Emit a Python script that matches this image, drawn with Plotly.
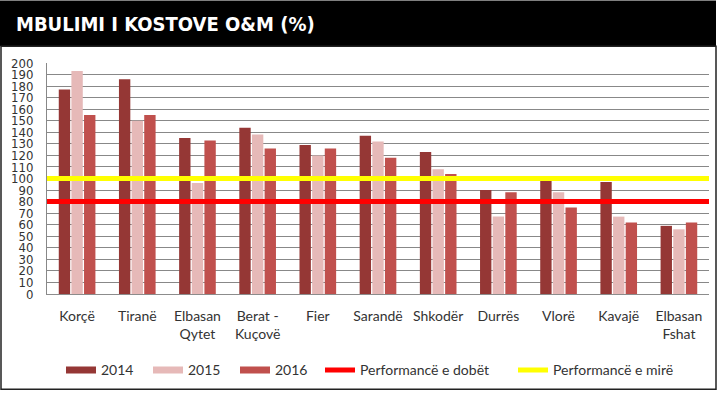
import plotly.graph_objects as go

categories = ["Korçë", "Tiranë", "Elbasan<br>Qytet", "Berat -<br>Kuçovë", "Fier", "Sarandë",
              "Shkodër", "Durrës", "Vlorë", "Kavajë", "Elbasan<br>Fshat"]
v2014 = [177, 186, 135, 144, 129, 137, 123, 90, 98, 97, 59]
v2015 = [193, 150, 96, 138, 120, 132, 108, 67, 88, 67, 56]
v2016 = [155, 155, 133, 126, 126, 118, 104, 88, 75, 62, 62]
series_names = ["2014", "2015", "2016"]
threshold_names = ["Performancë e dobët", "Performancë e mirë"]
threshold_values = [80, 100]
y_ticks = list(range(0, 201, 10))

bar_colors = ["#953735", "#E6B9B8", "#C0504D"]
line_colors = ["#FF0000", "#FFFF00"]
label_font = "Lato, 'Open Sans', sans-serif"

W, H = 719, 397
L, R, T, B = 47, 10, 63, 101
pw, ph = W - L - R, H - T - B


def px_x(px):
    return (px - L) / pw


def px_y(py):
    return (H - B - py) / ph


fig = go.Figure()
for name, vals, col in zip(series_names, [v2014, v2015, v2016], bar_colors):
    fig.add_trace(go.Bar(x=categories, y=vals, name=name, marker=dict(color=col, line=dict(width=0)),
                         showlegend=False))
    fig.add_trace(go.Scatter(x=[None], y=[None], mode="lines", name=name,
                             line=dict(color=col, width=7), legend="legend"))

shapes = [
    # header band
    dict(type="rect", xref="paper", yref="paper", x0=px_x(0), x1=px_x(716), y0=px_y(46), y1=px_y(0),
         fillcolor="#000000", line=dict(width=0), layer="below"),
    # outer frame
    dict(type="rect", xref="paper", yref="paper", x0=px_x(1), x1=px_x(716), y0=px_y(392), y1=px_y(46),
         fillcolor="rgba(0,0,0,0)", line=dict(color="#222222", width=1.5), layer="below"),
]
for name, val, col in zip(threshold_names, threshold_values, line_colors):
    shapes.append(dict(type="line", xref="x domain", yref="y", x0=0, x1=1, y0=val, y1=val,
                       line=dict(color=col, width=5), layer="above", showlegend=True,
                       name=name, legend="legend2"))

fig.update_layout(
    width=W, height=H,
    margin=dict(l=L, r=R, t=T, b=B, pad=0),
    paper_bgcolor="white", plot_bgcolor="white",
    barmode="group", bargap=0.37, bargroupgap=0.1,
    shapes=shapes,
    font=dict(family=label_font, color="#333333", size=14),
    xaxis=dict(showgrid=False, showline=True, linecolor="#8c8c8c", linewidth=1,
               ticks="", tickfont=dict(family=label_font, size=14, color="#333333"),
               ticklabelstandoff=9, fixedrange=True),
    yaxis=dict(range=[0, 200], tickvals=y_ticks, showgrid=True, gridcolor="#888888", gridwidth=1,
               showline=True, linecolor="#888888", linewidth=1, zeroline=False,
               ticks="", ticklabelstandoff=10,
               tickfont=dict(family="'DejaVu Sans Condensed', 'Liberation Sans Narrow', sans-serif",
                             size=13, color="#333333")),
    legend=dict(orientation="h", x=px_x(61), xanchor="left", y=px_y(373), yanchor="middle",
                entrywidth=42, font=dict(family=label_font, size=14, color="#333333"),
                bgcolor="rgba(0,0,0,0)"),
    legend2=dict(orientation="h", x=px_x(320), xanchor="left", y=px_y(373), yanchor="middle",
                 entrywidth=148, font=dict(family=label_font, size=14, color="#333333"),
                 bgcolor="rgba(0,0,0,0)"),
    annotations=[dict(text="<b>MBULIMI I KOSTOVE O&M (%)</b>", xref="paper", yref="paper",
                      x=px_x(14), y=px_y(24), xanchor="left", yanchor="middle", showarrow=False,
                      font=dict(family="'Liberation Sans Narrow', 'DejaVu Sans Condensed', sans-serif",
                                size=20, color="white"))],
)

fig.write_html("out.html", config={"displayModeBar": False},
               post_script="document.body.style.margin='0';document.body.style.padding='0';")
